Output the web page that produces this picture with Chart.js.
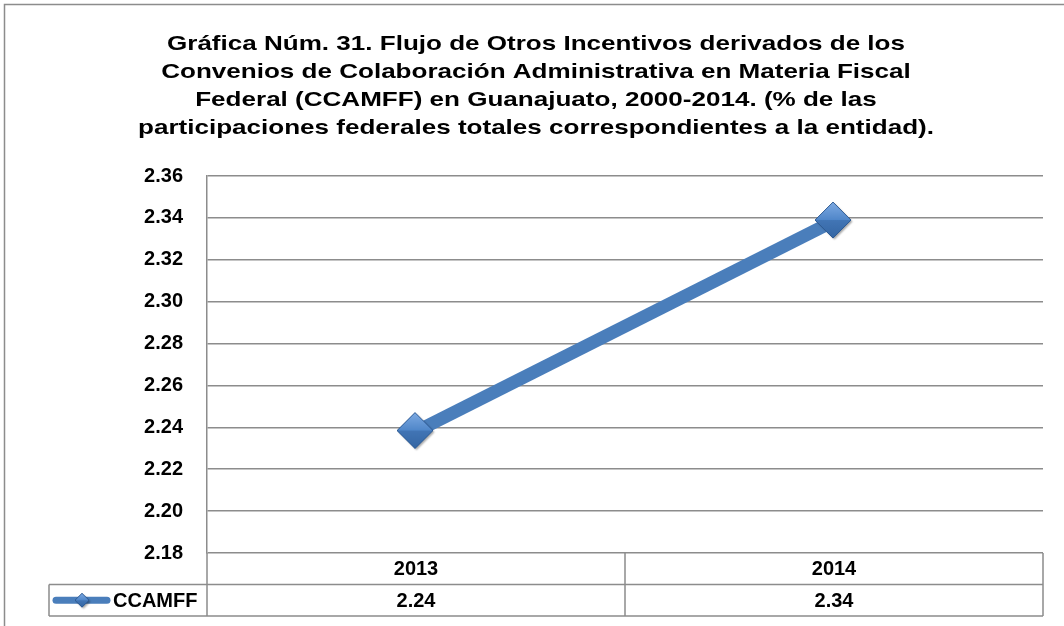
<!DOCTYPE html>
<html>
<head>
<meta charset="utf-8">
<style>
  html, body { margin: 0; padding: 0; background: #fff; overflow: hidden; }
  #wrap { width: 1064px; height: 626px; position: relative; overflow: hidden; }
  #wrap canvas { display: block; }
</style>
</head>
<body>
<div id="wrap">
    <canvas id="ccamffChart"></canvas>
</div>
<script src="https://cdn.jsdelivr.net/npm/chart.js"></script>
<script>
    // Data
    const years = ['2013', '2014'];
    const ccamff = [2.238, 2.3385];
    const seriesName = 'CCAMFF';
    const titleLines = [
        'Gráfica Núm. 31. Flujo de Otros Incentivos derivados de los',
        'Convenios de Colaboración Administrativa en Materia Fiscal',
        'Federal (CCAMFF) en Guanajuato, 2000-2014. (% de las',
        'participaciones federales totales correspondientes a la entidad).'
    ];
    const yTicks = { min: 2.18, max: 2.36, step: 0.02 };

    const FONT = "'Liberation Sans', Arial, sans-serif";
    const GRID = '#8c8c8c';
    const BLUE = '#4a7ebb';

    // beveled diamond marker like the Excel one
    function makeDiamond(r) {
        const pad = 3;
        const s = r * 2 + pad * 2;
        const c = document.createElement('canvas');
        c.width = s; c.height = s;
        const g = c.getContext('2d');
        const cx = s / 2 - 1, cy = s / 2 - 1;
        g.save();
        g.shadowColor = 'rgba(0,0,0,0.35)';
        g.shadowOffsetX = 1.5; g.shadowOffsetY = 1.5; g.shadowBlur = 2;
        g.beginPath();
        g.moveTo(cx, cy - r); g.lineTo(cx + r, cy); g.lineTo(cx, cy + r); g.lineTo(cx - r, cy); g.closePath();
        g.fillStyle = '#3f73b5';
        g.fill();
        g.restore();
        // upper facet
        let gr = g.createLinearGradient(0, cy - r, 0, cy);
        gr.addColorStop(0, '#7eaae2');
        gr.addColorStop(1, '#4f86c9');
        g.beginPath();
        g.moveTo(cx, cy - r); g.lineTo(cx + r, cy); g.lineTo(cx - r, cy); g.closePath();
        g.fillStyle = gr; g.fill();
        // lower facet
        gr = g.createLinearGradient(0, cy, 0, cy + r);
        gr.addColorStop(0, '#4275b5');
        gr.addColorStop(1, '#3466a3');
        g.beginPath();
        g.moveTo(cx + r, cy); g.lineTo(cx, cy + r); g.lineTo(cx - r, cy); g.closePath();
        g.fillStyle = gr; g.fill();
        g.beginPath();
        g.moveTo(cx, cy - r); g.lineTo(cx + r, cy); g.lineTo(cx, cy + r); g.lineTo(cx - r, cy); g.closePath();
        g.strokeStyle = '#2e5b94'; g.lineWidth = 1; g.stroke();
        return c;
    }
    const bigDiamond = makeDiamond(18);
    const smallDiamond = makeDiamond(7);

    // frame, stretched title and data table under the plot
    const tablePlugin = {
        id: 'dataTable',
        beforeDraw(chart) {
            const ctx = chart.ctx;
            ctx.save();
            ctx.strokeStyle = GRID;
            ctx.lineWidth = 1.5;
            ctx.beginPath();
            ctx.moveTo(4.5, chart.height);
            ctx.lineTo(4.5, 4.5);
            ctx.lineTo(chart.width, 4.5);
            ctx.stroke();

            // title is drawn wide like the original
            ctx.fillStyle = '#000';
            ctx.font = 'bold 21px ' + FONT;
            ctx.textAlign = 'center';
            ctx.textBaseline = 'alphabetic';
            titleLines.forEach((t, i) => {
                ctx.save();
                ctx.translate(536, 50 + i * 28);
                ctx.scale(1.24, 1);
                ctx.fillText(t, 0, 0);
                ctx.restore();
            });
            ctx.restore();
        },
        afterDraw(chart) {
            const ctx = chart.ctx;
            const area = chart.chartArea;
            const xs = chart.scales.x;
            const rowH = 31.5;
            const top = area.bottom;
            const mid = top + rowH;
            const bot = top + rowH * 2;
            const legendLeft = 49;
            const centers = years.map((y, i) => xs.getPixelForValue(i));
            const splits = [];
            for (let i = 0; i < centers.length - 1; i++) splits.push((centers[i] + centers[i + 1]) / 2);

            ctx.save();
            ctx.strokeStyle = GRID;
            ctx.lineWidth = 1.5;
            ctx.beginPath();
            ctx.moveTo(legendLeft, mid); ctx.lineTo(area.right, mid);
            ctx.moveTo(legendLeft, bot); ctx.lineTo(area.right, bot);
            ctx.moveTo(legendLeft, mid); ctx.lineTo(legendLeft, bot);
            [area.left, area.right].concat(splits).forEach(x => {
                ctx.moveTo(x, top); ctx.lineTo(x, bot);
            });
            ctx.stroke();

            ctx.fillStyle = '#000';
            ctx.font = 'bold 20px ' + FONT;
            ctx.textAlign = 'center';
            ctx.textBaseline = 'middle';
            centers.forEach((x, i) => {
                ctx.fillText(years[i], x, top + rowH / 2 + 1);
                ctx.fillText(ccamff[i].toFixed(2), x, mid + rowH / 2 + 1);
            });

            // legend key
            const ky = mid + rowH / 2;
            ctx.strokeStyle = BLUE;
            ctx.lineWidth = 7;
            ctx.lineCap = 'round';
            ctx.beginPath();
            ctx.moveTo(56, ky); ctx.lineTo(107, ky);
            ctx.stroke();
            ctx.drawImage(smallDiamond, 82 - smallDiamond.width / 2 + 1, ky - smallDiamond.height / 2 + 1);
            ctx.textAlign = 'left';
            ctx.fillText(seriesName, 113, ky + 1);
            ctx.restore();
        }
    };

    new Chart(document.getElementById('ccamffChart'), {
        type: 'line',
        data: {
            labels: years,
            datasets: [{
                label: seriesName,
                data: ccamff,
                borderColor: BLUE,
                borderWidth: 13,
                tension: 0,
                pointStyle: bigDiamond,
                pointRadius: 18,
                pointHoverRadius: 18,
                clip: false
            }]
        },
        options: {
            responsive: true,
            maintainAspectRatio: false,
            animation: false,
            layout: {
                autoPadding: false,
                padding: { left: 0, right: 21, top: 176, bottom: 73 }
            },
            plugins: {
                legend: { display: false },
                tooltip: { enabled: false },
                title: { display: false }
            },
            scales: {
                x: {
                    type: 'category',
                    offset: true,
                    grid: { display: false },
                    border: { display: false },
                    ticks: { display: false },
                    afterFit(scale) {
                        scale.height = 0;
                        scale.paddingLeft = 0;
                        scale.paddingRight = 0;
                    }
                },
                y: {
                    min: yTicks.min,
                    max: yTicks.max,
                    grid: { color: GRID, lineWidth: 1.5, drawTicks: false },
                    border: { color: GRID, width: 1.5 },
                    ticks: {
                        stepSize: yTicks.step,
                        padding: 24,
                        color: '#000',
                        font: { family: FONT, size: 20, weight: 'bold' },
                        callback: v => v.toFixed(2)
                    },
                    afterFit(scale) { scale.width = 207; }
                }
            }
        },
        plugins: [tablePlugin]
    });
</script>
</body>
</html>
